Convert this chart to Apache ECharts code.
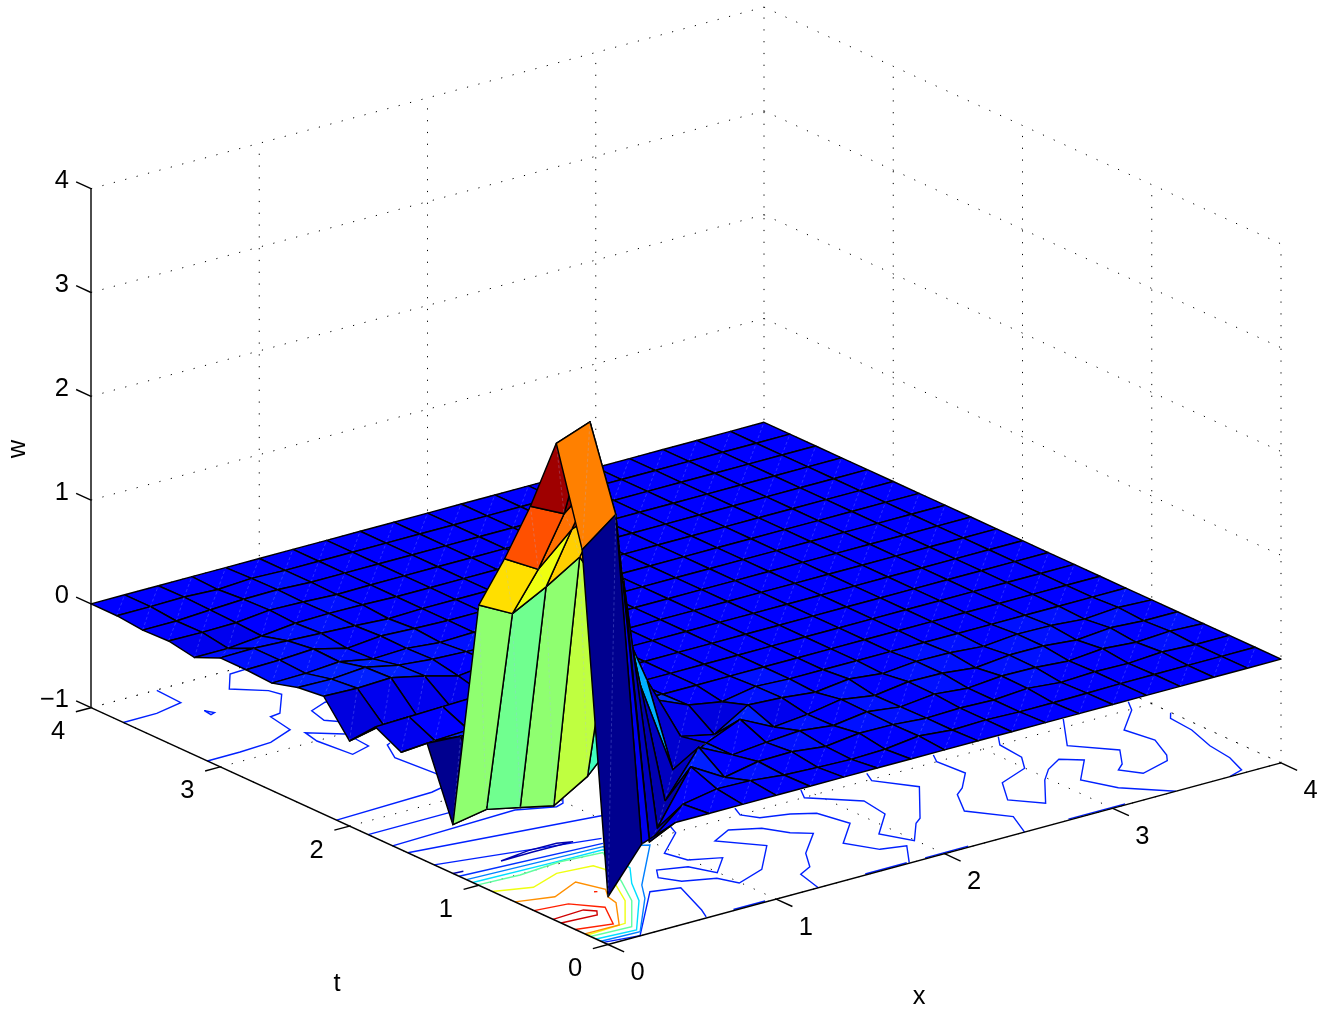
<!DOCTYPE html>
<html>
<head>
<meta charset="utf-8">
<script src="https://cdn.jsdelivr.net/npm/echarts@6/dist/echarts.min.js"></script>
<style>html,body{margin:0;padding:0;background:#fff}#c{width:1335px;height:1014px}</style>
</head>
<body>
<div id="c"></div>
<script>
// ---- values ----
const xTicks = [0, 1, 2, 3, 4];
const tTicks = [0, 1, 2, 3, 4];
const wTicks = [-1, 0, 1, 2, 3, 4];
const wTickLabels = ['\u22121', '0', '1', '2', '3', '4'];
const gridX = [0, .2, .4, .6, .8, 1, 1.2, 1.4, 1.6, 1.8, 2, 2.2, 2.4, 2.6, 2.8, 3, 3.2, 3.4, 3.6, 3.8, 4];
const gridT = [0, .2, .4, .6, .8, 1, 1.2, 1.4, 1.6, 1.8, 2, 2.2, 2.4, 2.6, 2.8, 3, 3.2, 3.4, 3.6, 3.8, 4];
const wT00 = [-.54,-.12,0,0,0,0,0,0,0,0,0,0,0,0,0,0,0,0,0,0,0];
const wT02 = [2.69,2.94,-.30,-.025,.035,.027,-.006,-.02,-.03,-.02,.02,-.01,0,-.01,-.01,-.005,0,0,0,0,0];
const wT04 = [3.60,3.72,2.10,-.37,.135,-.054,.01,.016,-.02,.02,.015,-.01,0,-.01,.015,-.015,0,-.007,.015,0,0];
const wT06 = [2.88,2.72,3.0,1.3,-.31,.12,-.04,-.007,.017,-.02,.025,-.015,.02,-.01,.02,.015,-.01,.02,-.005,.015,0];
const wT08 = [2.26,2.07,2.37,2.5,.72,-.21,-.04,.10,-.06,-.026,.03,-.02,.025,.02,-.015,.02,.02,-.01,.02,0,0];
const wT10 = [1.70,1.53,1.70,1.90,1.35,.54,-.09,-.16,.037,.02,-.015,.025,-.01,.02,.015,-.01,.02,.015,-.01,.015,0];
const wT12 = [-.53,-.47,-.54,-.61,-.415,-.08,.15,.01,-.045,.015,0,0,0,0,0,0,0,0,0,0,0];
const wT14 = [.14,.12,.10,.10,.05,0,.02,0,0,0,0,0,0,0,0,0,0,0,0,0,0];
const wT16 = [-.06,-.036,-.02,.02,.03,.02,0,0,0,0,0,0,0,0,0,0,0,0,0,0,0];
const wT18 = [.07,.08,.09,.10,.05,.02,0,0,0,0,0,0,0,0,0,0,0,0,0,0,0];
const wT20 = [-.18,-.11,-.11,-.11,-.08,-.03,0,0,0,0,0,0,0,0,0,0,0,0,0,0,0];
const wT22 = [.137,.126,.14,.07,-.017,.02,0,0,0,0,0,0,0,0,0,0,0,0,0,0,0];
const wT24 = [.107,.10,.127,.06,.03,.015,0,0,0,0,0,0,0,0,0,0,0,0,0,0,0];
const wT26 = [.035,.042,.066,.006,.02,-.01,0,0,0,0,0,0,0,0,0,0,0,0,0,0,0];
const wT28 = [.05,.056,.075,-.006,.025,.01,0,0,0,0,0,0,0,0,0,0,0,0,0,0,0];
const wT30 = [.05,.055,.04,.025,.01,-.01,0,0,0,0,0,0,0,0,0,0,0,0,0,0,0];
const wT32 = [-.06,-.06,-.028,.007,.015,.01,0,0,0,0,0,0,0,0,0,0,0,0,0,0,0];
const wT34 = [-.015,-.02,-.014,.02,.01,-.005,0,0,0,0,0,0,0,0,0,0,0,0,0,0,0];
const wT36 = [-.025,-.024,-.005,.01,.015,0,0,0,0,0,0,0,0,0,0,0,0,0,0,0,0];
const wT38 = [0,0,.005,-.01,.01,0,0,0,0,0,0,0,0,0,0,0,0,0,0,0,0];
const wT40 = [0,0,0,0,0,0,0,0,0,0,0,0,0,0,0,0,0,0,0,0,0];
const colourRange = [-.528, 3.8];

// contour polylines on the floor, as [x, t] points, with the level each belongs to
const cBlue1 = [[.388,3.996],[.377,3.796],[.2,3.752],[0,3.75]];
const cBlue2 = [[.399,3.643],[.421,3.593],[.392,3.582],[.399,3.643]];
const cBlue3 = [[.897,3.966],[.795,3.959],[.67,3.802],[.803,3.672],[.823,3.596],[.661,3.399],[.598,3.389],[.565,3.195],[.389,3.116],[.196,3.101],[0,3.1]];
const cBlue4 = [[1.04,3.385],[.92,3.387],[.801,3.335],[.769,3.198],[.823,3.132],[1.02,3.09]];
const cBlue5 = [[.735,2.992],[.597,3.12],[.573,2.998],[.598,2.754],[.725,2.797],[.738,2.956]];
const cBlue6 = [[.83,2.767],[.804,2.754],[.728,2.597],[.753,2.319],[.748,2.12],[.648,2.142],[.584,2.124],[0,2.1]];
const cBlue7 = [[0,1.856],[.489,1.858],[.7,1.86]];
const cBlue8 = [[0,1.667],[.75,1.697],[.933,1.612],[.987,1.633],[1.027,1.687]];
const cBlue9 = [[0,1.549],[1.019,1.389],[1.1,1.37]];
const cBlue10 = [[0,1.346],[.843,1.147]];
const cBlue11 = [[.592,.011],[.632,.098],[.736,.395],[.588,.441],[.192,.002],[0,.036]];
const cBlue12 = [[1.2,1.082],[1.166,.994],[.956,.808],[.988,.669],[1.138,.594],[.995,.45],[.935,.597],[.79,.652],[.733,.566],[.792,.461],[.948,.392],[.993,.277],[1.189,.358],[1.401,.595],[1.245,.793],[1.385,.872],[1.524,.794],[1.594,.666],[1.676,.593],[1.484,.402],[1.39,.248],[1.294,.193],[1.25,0]];
const cBlue13 = [[1.587,1.084],[1.552,.998],[1.603,.912],[1.747,.865],[1.852,.796],[1.895,.594],[1.706,.401],[1.794,.232],[1.924,.193],[1.795,.006]];
const cBlue14 = [[1.983,1.089],[1.933,.997],[2.129,.791],[2.102,.593],[1.916,.398],[1.994,.225],[2.142,.405],[2.198,.447],[2.453,.784],[2.324,.985],[2.366,1.078]];
const cBlue15 = [[2.764,1.081],[2.722,1],[2.737,.798],[2.603,.648],[2.531,.592],[2.423,.397],[2.56,.197],[2.476,0]];
const cBlue16 = [[3.157,1.09],[3.095,.997],[3.076,.804],[2.997,.678],[2.796,.589],[2.675,.39],[2.79,.246],[2.977,.496],[3.078,.599],[3.199,.676],[3.288,.595],[3.111,.393],[3.189,.203],[3.375,0]];
const cBlue17 = [[3.544,1.091],[3.341,.796],[3.503,.6],[3.397,.444],[3.334,.391],[3.4,.285],[3.593,.35],[3.637,.412],[3.716,.605],[3.682,.8],[3.874,.991],[3.929,1.089]];
const cBlue18 = [[3.997,.85],[3.951,.791],[3.935,.606],[3.874,.386],[3.851,.202],[3.795,.038],[3.696,0]];
const cEdge1 = [[.755,.012],[.943,.012]];
const cEdge2 = [[1.538,.012],[1.785,.012]];
const cEdge3 = [[1.894,.012],[2.15,.012]];
const cEdge4 = [[2.746,.012],[3.083,.012]];
const cDark1 = [[0,1.2],[.057,1.193]];
const cDark2 = [[.282,1.195],[.479,1.2],[.709,1.193],[.634,1.223],[.468,1.226],[.282,1.195]];
const cLevelG = [[0,1.152],[.807,1.09]];
const cLevelH = [[0,1.095],[.78,1.054],[.97,.938],[.612,.535],[.515,.385],[.225,.044],[0,.055]];
const cLevelI = [[0,1.047],[.446,1.029],[.755,1.022],[.707,.75],[.589,.583],[.474,.377],[.225,.072],[0,.092]];
const cLevelJ = [[0,1.007],[.239,.991],[.496,1.018],[.732,.992],[.564,.629],[.447,.398],[.234,.121],[0,.135]];
const cLevelK = [[0,.895],[.188,.822],[.389,.904],[.588,.88],[.603,.808],[.505,.589],[.422,.417],[.237,.176],[0,.16]];
const cLevelO = [[0,.72],[.192,.66],[.389,.757],[.442,.594],[.39,.508],[.371,.421],[.201,.175],[0,.179]];
const cLevelR = [[0,.573],[.183,.545],[.293,.404],[.187,.203],[0,.254]];
const cLevelD = [[0,.425],[.19,.438],[.232,.388],[.201,.345],[0,.363]];
const cRedDot = [[.378,.6],[.392,.592]];
const contourLines = [
  [cBlue1,.1],[cBlue2,.1],[cBlue3,.1],[cBlue4,.1],[cBlue5,.1],[cBlue6,.1],[cBlue7,.1],[cBlue8,.1],[cBlue9,.1],[cBlue10,.1],[cBlue11,.1],
  [cBlue12,.1],[cBlue13,.1],[cBlue14,.1],[cBlue15,.1],[cBlue16,.1],[cBlue17,.1],[cBlue18,.1],
  [cEdge1,.1],[cEdge2,.1],[cEdge3,.1],[cEdge4,.1],[cDark1,-.35],[cDark2,-.35],
  [cLevelG,.2],[cLevelH,.5],[cLevelI,.9],[cLevelJ,1.5],[cLevelK,2.05],[cLevelO,2.6],[cLevelR,3.1],[cLevelD,3.45],[cRedDot,3.1]
];

// ---- layout of the oblique view ----
const wRows = [wT00,wT02,wT04,wT06,wT08,wT10,wT12,wT14,wT16,wT18,wT20,wT22,wT24,wT26,wT28,wT30,wT32,wT34,wT36,wT38,wT40];
const view = {ox:608, oy:944.5, xx:168.25, xy:-45.4, tx:-129.25, ty:-59.2, wy:-103.8, wBase:-1};
function project(x, t, w) {
  return [view.ox + view.xx*x + view.tx*t, view.oy + view.xy*x + view.ty*t + view.wy*(w - view.wBase)];
}
function jet(v) {
  const n = Math.min(63, Math.max(0, Math.floor((v - colourRange[0])/(colourRange[1]-colourRange[0])*64)));
  const i = n + 1;
  let r, g, b;
  r = i <= 24 ? 0 : i <= 40 ? (i-24)/16 : i <= 56 ? 1 : 1-(i-56)/16;
  g = i <= 8 ? 0 : i <= 24 ? (i-8)/16 : i <= 40 ? 1 : i <= 56 ? 1-(i-40)/16 : 0;
  b = i <= 8 ? .5+i/16 : i <= 24 ? 1 : i <= 40 ? 1-(i-24)/16 : 0;
  return 'rgb(' + Math.round(r*255) + ',' + Math.round(g*255) + ',' + Math.round(b*255) + ')';
}

const series = [];
function addLine(points, color, width, dash, z) {
  series.push({
    type:'line', data:points, showSymbol:false, symbol:'none', silent:true, animation:false, clip:false, z:z,
    lineStyle:{color:color, width:width, type:dash || 'solid', cap:'butt', join:'miter'}
  });
}
// dotted grid on walls and floor
const dots = [1.2, 10.6];
wTicks.forEach(function (w) {
  addLine([project(0,4,w), project(4,4,w)], '#000', 1, dots, 1);
  addLine([project(4,4,w), project(4,0,w)], '#000', 1, dots, 1);
});
xTicks.forEach(function (x) {
  if (x > 0) addLine([project(x,4,-1), project(x,4,4)], '#000', 1, dots, 1);
  addLine([project(x,0,-1), project(x,4,-1)], '#000', 1, dots, 1);
});
tTicks.forEach(function (t) {
  if (t < 4) addLine([project(4,t,-1), project(4,t,4)], '#000', 1, dots, 1);
  addLine([project(0,t,-1), project(4,t,-1)], '#000', 1, dots, 1);
});
// contours
contourLines.forEach(function (c) {
  addLine(c[0].map(function (p) { return project(p[0], p[1], -1); }), jet(c[1]), 1.4, null, 2);
});
// axes and tick marks
addLine([project(0,4,-1), project(0,4,4)], '#000', 1.4, null, 3);
addLine([project(0,0,-1), project(4,0,-1)], '#000', 1.4, null, 3);
addLine([project(0,0,-1), project(0,4,-1)], '#000', 1.4, null, 3);
xTicks.forEach(function (x) { addLine([project(x,0,-1), project(x,-.125,-1)], '#000', 1.4, null, 3); });
tTicks.forEach(function (t) { addLine([project(0,t,-1), project(-.09,t,-1)], '#000', 1.4, null, 3); });
wTicks.forEach(function (w) { addLine([project(0,4,w), project(0,4.115,w)], '#000', 1.4, null, 3); });

// surface, painted from the far corner towards the viewer
const faces = [];
for (let j = gridT.length - 2; j >= 0; j--) {
  for (let i = gridX.length - 2; i >= 0; i--) faces.push([i, j]);
}
series.push({
  type:'custom', data:faces, z:4, silent:true, animation:false, clip:false, progressive:0,
  encode:{x:0, y:1},
  renderItem:function (params, api) {
    const i = api.value(0), j = api.value(1);
    const corner = function (a, b) { return api.coord(project(gridX[a], gridT[b], wRows[b][a])); };
    const p00 = corner(i,j), p10 = corner(i+1,j), p11 = corner(i+1,j+1), p01 = corner(i,j+1);
    return {type:'group', children:[
      {type:'polygon', shape:{points:[p00,p10,p11,p01]},
       style:{fill:jet(wRows[j][i]), stroke:'#000', lineWidth:1.45, lineJoin:'round'}},
      {type:'line', shape:{x1:p00[0], y1:p00[1], x2:p11[0], y2:p11[1]},
       style:{stroke:'rgba(165,180,255,.45)', lineWidth:.6, lineDash:[3,2.5]}}
    ]};
  }
});

// text
const texts = [];
xTicks.forEach(function (x) { const p = project(x,0,-1); texts.push([p[0]+29.5, p[1]+28.5, String(x), 'center', 0]); });
tTicks.forEach(function (t) { const p = project(0,t,-1); texts.push([p[0]-33, p[1]+24.5, String(t), 'center', 0]); });
wTicks.forEach(function (w, k) { const p = project(0,4,w); texts.push([p[0]-22, p[1]-7.5, wTickLabels[k], 'right', 0]); });
texts.push([919, 997, 'x', 'center', 0]);
texts.push([337, 984, 't', 'center', 0]);
texts.push([18, 449, 'w', 'center', Math.PI/2]);
series.push({
  type:'custom', data:texts.map(function (d, k) { return [d[0], d[1], k]; }), z:5, silent:true, animation:false, clip:false,
  encode:{x:0, y:1},
  renderItem:function (params, api) {
    const d = texts[api.value(2)];
    const p = api.coord([d[0], d[1]]);
    return {type:'text', x:p[0], y:p[1], rotation:d[4],
      style:{text:d[2], fill:'#000', font:'25.5px "Liberation Sans", Arial, sans-serif', textAlign:d[3], textVerticalAlign:'middle'}};
  }
});

const chart = echarts.init(document.getElementById('c'), null, {renderer:'canvas'});
chart.setOption({
  animation:false, backgroundColor:'#fff',
  grid:{left:0, right:0, top:0, bottom:0},
  xAxis:{type:'value', min:0, max:1335, show:false},
  yAxis:{type:'value', min:0, max:1014, inverse:true, show:false},
  tooltip:{show:false}, legend:{show:false},
  series:series
});
</script>
</body>
</html>
